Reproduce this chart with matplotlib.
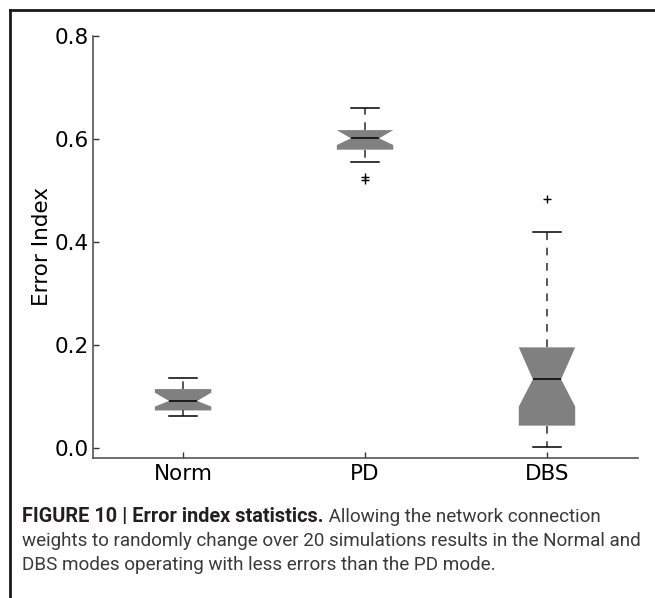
import matplotlib
matplotlib.use("Agg")
import matplotlib.pyplot as plt
from matplotlib import font_manager
from matplotlib.lines import Line2D

# Summary statistics of the error index per mode (20 simulations each)
modes = ['Norm', 'PD', 'DBS']
whisker_low = [0.061, 0.556, 0.001]
q1 = [0.0725, 0.579, 0.043]
median = [0.091, 0.601, 0.133]
q3 = [0.114, 0.617, 0.195]
whisker_high = [0.135, 0.660, 0.419]
notch_low = [0.080, 0.588, 0.080]
notch_high = [0.107, 0.617, 0.195]
outliers = [[], [0.520, 0.526], [0.484]]

y_ticks = [0.0, 0.2, 0.4, 0.6, 0.8]

caption_bold = "FIGURE 10 | Error index statistics."
caption_lines = [
    " Allowing the network connection",
    "weights to randomly change over 20 simulations results in the Normal and",
    "DBS modes operating with less errors than the PD mode.",
]

# narrow face for the caption if one is installed
installed = {f.name for f in font_manager.fontManager.ttflist}
cap_family = 'Roboto' if 'Roboto' in installed else 'Liberation Sans'

fig = plt.figure(figsize=(6.55, 5.98), dpi=100)
ax = fig.add_axes([0.142, 0.234, 0.832, 0.706])

stats = []
for i, name in enumerate(modes):
    stats.append(dict(label=name, whislo=whisker_low[i], q1=q1[i], med=median[i],
                      q3=q3[i], whishi=whisker_high[i], cilo=notch_low[i],
                      cihi=notch_high[i], fliers=outliers[i]))

ax.bxp(stats, positions=[1, 2, 3], widths=0.31, shownotches=True, patch_artist=True,
       boxprops=dict(facecolor='#808080', edgecolor='none', linewidth=0),
       medianprops=dict(color='black', linewidth=1.1),
       whiskerprops=dict(color='#2a2a2a', linewidth=1.1, linestyle=(0, (5, 5))),
       capprops=dict(color='black', linewidth=1.1),
       flierprops=dict(marker='+', markeredgecolor='black', markersize=6, markeredgewidth=1.0))

ax.set_xlim(0.505, 3.5)
ax.set_ylim(-0.02, 0.8)
ax.set_yticks(y_ticks)
ax.set_yticklabels([f"{v:.1f}" for v in y_ticks])
ax.set_xticks([1, 2, 3])
ax.set_xticklabels(modes)
ax.tick_params(direction='in', length=4, width=1, color='#333333', labelsize=15.5, pad=3)
ax.tick_params(axis='x', pad=4)
ax.set_ylabel('Error Index', fontsize=15.5, labelpad=2)

for side in ['top', 'right']:
    ax.spines[side].set_visible(False)
for side in ['left', 'bottom']:
    ax.spines[side].set_color('#555555')
    ax.spines[side].set_linewidth(1.2)

# frame around the figure panel
fig.add_artist(Line2D([10 / 655, 10 / 655], [0, 1 - 10 / 598], color='#1a1a1a', lw=2.0,
                      transform=fig.transFigure, solid_capstyle='projecting'))
fig.add_artist(Line2D([10 / 655, 1], [1 - 10 / 598, 1 - 10 / 598], color='#1a1a1a', lw=2.0,
                      transform=fig.transFigure, solid_capstyle='projecting'))

# caption, sized so the longest line spans the text column
x0 = 22 / 655
line_y = [1 - 517 / 598, 1 - 541 / 598, 1 - 565 / 598]
renderer = fig.canvas.get_renderer()
probe = fig.text(x0, line_y[1], caption_lines[1], fontsize=14, family=cap_family)
probe_w = probe.get_window_extent(renderer=renderer).width
probe.remove()
cap_size = 14 * 626 / probe_w

t_bold = fig.text(x0, line_y[0], caption_bold, fontsize=cap_size * 1.05, fontweight='bold',
                  family=cap_family, color='#231f20', va='center')
bb = t_bold.get_window_extent(renderer=renderer)
fig.text(bb.x1 / fig.bbox.width, line_y[0], caption_lines[0], fontsize=cap_size,
         family=cap_family, color='#3a3a3a', va='center')
fig.text(x0, line_y[1], caption_lines[1], fontsize=cap_size, family=cap_family,
         color='#3a3a3a', va='center')
fig.text(x0, line_y[2], caption_lines[2], fontsize=cap_size, family=cap_family,
         color='#3a3a3a', va='center')

fig.savefig('out.png', dpi=100)
